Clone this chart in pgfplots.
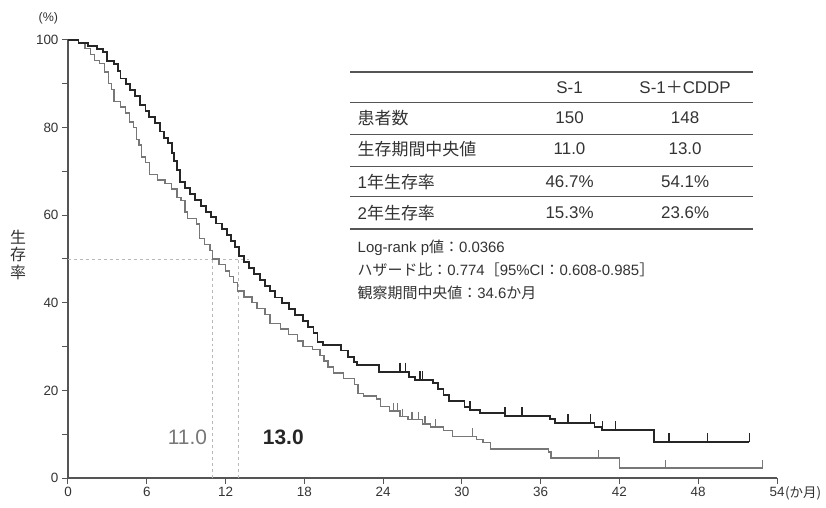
\documentclass[border=0pt]{standalone}
\usepackage{pgfplots}
\pgfplotsset{compat=1.18}
\usepackage{fontspec}
\setmainfont{Liberation Sans}
\newfontfamily\jp{Noto Sans CJK JP}
\definecolor{darkc}{HTML}{262626}
\definecolor{lightc}{HTML}{777777}
\definecolor{axc}{HTML}{555555}
\definecolor{txt}{HTML}{333333}
\begin{document}
\begin{tikzpicture}
\useasboundingbox (-68bp,-30bp) rectangle (758bp,478bp);
\begin{axis}[
  scale only axis, width=709bp, height=438bp,
  xmin=0, xmax=54, ymin=0, ymax=100,
  axis lines=left, axis line style={axc, line width=1.3bp, -},
  xtick={0,6,...,54}, ytick={0,20,...,100},
  minor ytick={10,30,...,90},
  tick style={axc, line width=1bp},
  tick align=outside, major tick length=6bp, minor tick length=6bp,
  x tick label style={font=\fontsize{13.5}{15}\selectfont, text=txt},
  y tick label style={font=\fontsize{13.5}{15}\selectfont, text=txt},
  /pgf/number format/assume math mode=true,
  clip=false,
]
% reference dashed lines
\addplot[gray!55, dashed, line width=0.8bp] coordinates {(0,50) (13.8,50)};
\addplot[gray!55, dashed, line width=0.8bp] coordinates {(11,0) (11,50)};
\addplot[gray!55, dashed, line width=0.8bp] coordinates {(13,0) (13,51)};
% S-1 (light)
\addplot[const plot, lightc, line width=1.4bp] coordinates {
(0,100)(0.8,99.3)(1.3,98)(1.7,96.7)(2.0,95.3)(2.4,94.7)(2.8,92.7)(3.1,90)(3.3,88.7)(3.5,86)
(4.0,84.7)(4.4,83.3)(4.7,81.3)(5.0,80)(5.2,77.3)(5.4,76)(5.6,73.3)(5.9,72)(6.2,69.3)(6.8,68)
(7.4,67.3)(7.9,66)(8.3,64)(8.6,63.3)(8.9,60.7)(9.1,59.3)(9.8,58)(10.0,54.7)(10.4,53.3)(10.8,52)
(11.0,50)(11.5,48.7)(12.0,47.3)(12.3,46)(12.6,44.7)(12.9,42.7)(13.4,41.3)(14.0,40)(14.4,38.7)(15.0,37.3)
(15.4,35.3)(16.2,34)(16.8,32.7)(17.5,31.3)(17.9,30)(18.6,29.3)(19.2,28)(19.5,26.7)(19.8,25.3)(20.2,24)
(21.0,22.7)(21.8,21.3)(22.1,19.3)(22.5,18.7)(23.5,18)(23.8,16.3)(24.5,15.3)(25.3,14)(25.9,13.3)(27.0,12.3)
(27.6,11.6)(28.6,10.9)(29.3,9.5)(31.1,8.8)(31.6,8.1)(32.2,6.6)(36.6,5.9)(36.8,4.6)(42.0,2.3)(52.9,2.3)};
% S-1 + CDDP (dark)
\addplot[const plot, darkc, line width=1.9bp] coordinates {
(0,100)(0.8,99.3)(1.5,98.6)(2.2,98)(2.7,97.3)(3.0,95.3)(3.5,94.6)(3.8,93)(4.0,91.2)(4.4,89.9)
(4.7,88.5)(5.1,87.2)(5.5,85.1)(5.9,83.8)(6.2,82.4)(6.6,81.1)(7.0,79.1)(7.3,77.7)(7.6,76.4)(7.9,74.3)
(8.1,72.3)(8.3,70.3)(8.5,67.6)(8.9,66.2)(9.3,64.9)(9.7,63.5)(10.1,62.2)(10.5,60.8)(10.9,59.5)(11.3,58.1)
(11.7,56.8)(12.1,55.4)(12.4,54.1)(12.7,52.7)(13.0,50.7)(13.4,49.3)(13.8,48.0)(14.2,46.6)(14.6,45.3)(15.0,43.9)
(15.4,42.6)(15.8,41.2)(16.3,39.9)(16.8,38.5)(17.3,37.2)(17.9,35.8)(18.3,34.5)(18.7,33.1)(19.0,31.1)(19.4,30.4)
(20.8,29.1)(21.3,27.7)(21.8,26.4)(22.0,25.7)(23.7,24.3)(26.0,23.0)(26.4,22.3)(27.8,21.6)(28.2,20.3)(28.6,18.9)
(29.0,17.6)(30.2,16.2)(30.6,15.5)(31.4,14.9)(33.3,14.2)(36.7,13.5)(37.1,12.5)(40.1,11.6)(40.7,10.9)(44.6,8.2)(51.9,8.2)};
% censor marks
\addplot[only marks, mark=|, mark size=4bp, lightc, mark options={line width=1.3bp, yshift=4bp}] coordinates {
(24.8,15.3)(25.1,15.3)(25.5,14)(26.2,13.3)(26.7,13.3)(27.2,12.3)(28.0,11.6)(30.8,9.5)(40.4,4.6)(45.5,2.3)(52.9,2.3)};
\addplot[only marks, mark=|, mark size=4.5bp, darkc, mark options={line width=1.7bp, yshift=4.5bp}] coordinates {
(25.3,24.3)(25.7,24.3)(26.8,22.3)(27.0,22.3)(30.6,15.5)(33.3,14.2)(34.6,14.2)(38.1,12.5)(39.8,12.5)(40.7,10.9)(41.7,10.9)(45.8,8.2)(48.7,8.2)(51.9,8.2)};
% median labels
\node[text=lightc, font=\fontsize{21}{23}\selectfont] at (axis cs:9.1,9.4) {11.0};
\node[text=darkc, font=\fontsize{21}{23}\selectfont\bfseries] at (axis cs:16.4,9.4) {13.0};
% axis extras
\node[text=txt, font=\fontsize{12.5}{14}\selectfont] at (axis cs:-1.5,105) {(\%)};
\node[text=txt, anchor=north west, font=\fontsize{13.5}{15}\selectfont, inner sep=0pt] at (axis cs:54.6,-1.9) {{\jp (か月)}};
\node[text=txt, font=\jp\fontsize{16}{17}\selectfont] at (axis cs:-3.8,50.9) {\shortstack{生\\存\\率}};
% table
\draw[axc, line width=1.5bp] (axis cs:21.5,92.7) -- (axis cs:52.2,92.7);
\draw[axc, line width=1.1bp] (axis cs:21.5,85.8) -- (axis cs:52.2,85.8);
\draw[axc, line width=1.1bp] (axis cs:21.5,78.5) -- (axis cs:52.2,78.5);
\draw[axc, line width=1.1bp] (axis cs:21.5,71.2) -- (axis cs:52.2,71.2);
\draw[axc, line width=1.1bp] (axis cs:21.5,64.2) -- (axis cs:52.2,64.2);
\draw[axc, line width=1.5bp] (axis cs:21.5,56.8) -- (axis cs:52.2,56.8);
\begin{scope}[every node/.style={text=txt, font=\fontsize{17}{19}\selectfont}]
\node at (axis cs:38.2,89.2) {S-1};
\node at (axis cs:47.0,89.2) {S-1{\jp ＋}CDDP};
\node[anchor=west] at (axis cs:21.8,82.2) {\jp 患者数};
\node at (axis cs:38.2,82.2) {150};
\node at (axis cs:47.0,82.2) {148};
\node[anchor=west] at (axis cs:21.8,75.1) {\jp 生存期間中央値};
\node at (axis cs:38.2,75.1) {11.0};
\node at (axis cs:47.0,75.1) {13.0};
\node[anchor=west] at (axis cs:21.8,67.6) {1{\jp 年生存率}};
\node at (axis cs:38.2,67.6) {46.7\%};
\node at (axis cs:47.0,67.6) {54.1\%};
\node[anchor=west] at (axis cs:21.8,60.5) {2{\jp 年生存率}};
\node at (axis cs:38.2,60.5) {15.3\%};
\node at (axis cs:47.0,60.5) {23.6\%};
\end{scope}
\begin{scope}[every node/.style={text=txt, anchor=west, font=\fontsize{15}{17}\selectfont}]
\node at (axis cs:21.8,52.5) {Log-rank p{\jp 値：}0.0366};
\node at (axis cs:21.8,47.5) {{\jp ハザード比：}0.774{\jp ［}95\%CI{\jp ：}0.608-0.985{\jp ］}};
\node at (axis cs:21.8,42.2) {{\jp 観察期間中央値：}34.6{\jp か月}};
\end{scope}
\end{axis}
\end{tikzpicture}
\end{document}
